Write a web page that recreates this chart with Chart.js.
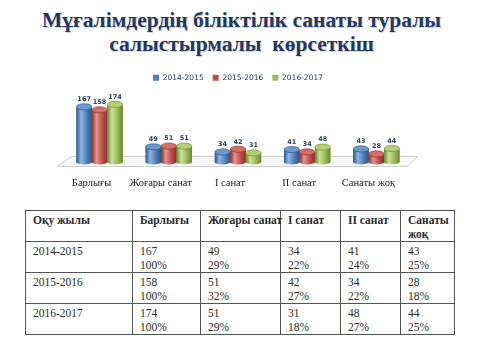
<!DOCTYPE html>
<html lang="kk">
<head>
<meta charset="UTF-8">
<title>Мұғалімдердің біліктілік санаты</title>
<script src="https://cdn.jsdelivr.net/npm/chart.js"></script>
<style>
    body { margin: 0; background: #fff; width: 483px; height: 363px; overflow: hidden; position: relative; }
    .titulo {
        position: absolute; left: 0; top: 8px; width: 483px; text-align: center;
        font-family: "Liberation Serif", serif; font-weight: bold; font-size: 21.5px; line-height: 24px;
        color: #1f3864; text-shadow: 1px 1px 1px rgba(0, 0, 0, 0.18);
    }
    .grafico { position: absolute; left: 0; top: 62px; width: 483px; height: 134px; }
    table.dados {
        position: absolute; left: 25px; top: 210px; width: 429px; table-layout: fixed;
        border-collapse: collapse; font-family: "Liberation Serif", serif; font-size: 11.5px; color: #2b2b2b;
    }
    table.dados td, table.dados th {
        box-sizing: border-box; border: 1px solid #555; vertical-align: top; text-align: left;
        padding: 2px 0 0 7px; line-height: 14px; font-weight: normal;
    }
    table.dados th { font-weight: bold; height: 31px; white-space: nowrap; }
    table.dados th:last-child { white-space: normal; }
    table.dados td { height: 28.5px; }
</style>
</head>
<body>

<div class="titulo">Мұғалімдердің біліктілік санаты туралы<br>салыстырмалы&nbsp; көрсеткіш</div>
<div class="grafico"><canvas id="graficoSanat"></canvas></div>
<table class="dados" id="tabelaSanat"></table>

<script>
    const categorias = ['Барлығы', 'Жоғары санат', 'I санат', 'II санат', 'Санаты жоқ'];
    const anos = ['2014-2015', '2015-2016', '2016-2017'];
    const valores2014 = [167, 49, 34, 41, 43];
    const valores2015 = [158, 51, 42, 34, 28];
    const valores2016 = [174, 51, 31, 48, 44];
    const percent2014 = ['100%', '29%', '22%', '24%', '25%'];
    const percent2015 = ['100%', '32%', '27%', '22%', '18%'];
    const percent2016 = ['100%', '29%', '18%', '27%', '25%'];
    const cabecalho = ['Оқу жылы', 'Барлығы', 'Жоғары санат', 'I санат', 'II санат', 'Санаты жоқ'];
    const largurasColunas = [107, 68, 80, 60, 60, 54];

    // cores: base, escuro, claro, topo
    const cores = [
        ['#4f81bd', '#2a5587', '#93b5e0', '#6f99cf'],
        ['#c0504d', '#86302d', '#e39390', '#d16f6c'],
        ['#9bbb59', '#67862f', '#cde09c', '#b2cf74']
    ];

    // tabela
    const tabela = document.getElementById('tabelaSanat');
    let html = '<tr>' + cabecalho.map((c, i) => `<th style="width:${largurasColunas[i]}px">${c}</th>`).join('') + '</tr>';
    [valores2014, valores2015, valores2016].forEach((vals, r) => {
        const pcts = [percent2014, percent2015, percent2016][r];
        html += '<tr><td>' + anos[r] + '</td>' + vals.map((v, i) => `<td>${v}<br>${pcts[i]}</td>`).join('') + '</tr>';
    });
    tabela.innerHTML = html;

    // piso 3D e cilindros
    const cilindros = {
        id: 'cilindros',
        beforeDatasetsDraw(chart) {
            const { ctx, chartArea } = chart;
            const b = chartArea.bottom;
            ctx.save();
            ctx.beginPath();
            ctx.moveTo(chartArea.left + 7, b - 7);
            ctx.lineTo(chartArea.right + 7, b - 7);
            ctx.lineTo(chartArea.right - 4, b + 3);
            ctx.lineTo(chartArea.left - 8, b + 3);
            ctx.closePath();
            ctx.fillStyle = '#f9f9f9';
            ctx.fill();
            ctx.strokeStyle = '#cccccc';
            ctx.lineWidth = 1;
            ctx.stroke();
            ctx.restore();
        },
        afterDatasetsDraw(chart) {
            const { ctx } = chart;
            chart.data.datasets.forEach((ds, d) => {
                const meta = chart.getDatasetMeta(d);
                const c = cores[d];
                meta.data.forEach((el, i) => {
                    const w = el.width, x = el.x, top = el.y, bot = el.base - 2;
                    const ry = w * 0.2;
                    const g = ctx.createLinearGradient(x - w / 2, 0, x + w / 2, 0);
                    g.addColorStop(0, c[1]);
                    g.addColorStop(0.3, c[2]);
                    g.addColorStop(0.65, c[0]);
                    g.addColorStop(1, c[1]);
                    ctx.save();
                    ctx.beginPath();
                    ctx.moveTo(x - w / 2, top);
                    ctx.lineTo(x - w / 2, bot);
                    ctx.ellipse(x, bot, w / 2, ry, 0, Math.PI, 0, true);
                    ctx.lineTo(x + w / 2, top);
                    ctx.ellipse(x, top, w / 2, ry, 0, 0, Math.PI, false);
                    ctx.closePath();
                    ctx.fillStyle = g;
                    ctx.fill();
                    ctx.beginPath();
                    ctx.ellipse(x, top, w / 2, ry, 0, 0, Math.PI * 2);
                    ctx.fillStyle = c[3];
                    ctx.fill();
                    ctx.strokeStyle = c[1];
                    ctx.lineWidth = 0.6;
                    ctx.stroke();
                    // rótulo
                    ctx.fillStyle = '#243f60';
                    ctx.font = 'bold 6.5px "DejaVu Sans"';
                    ctx.textAlign = 'center';
                    ctx.textBaseline = 'bottom';
                    ctx.fillText(ds.data[i], x, top - ry - 1);
                    ctx.restore();
                });
            });
        }
    };

    new Chart(document.getElementById('graficoSanat'), {
        type: 'bar',
        data: {
            labels: categorias,
            datasets: [
                { label: anos[0], data: valores2014, backgroundColor: cores[0][0] },
                { label: anos[1], data: valores2015, backgroundColor: cores[1][0] },
                { label: anos[2], data: valores2016, backgroundColor: cores[2][0] }
            ]
        },
        options: {
            responsive: true,
            maintainAspectRatio: false,
            animation: false,
            categoryPercentage: 0.67,
            barPercentage: 1.0,
            layout: { padding: { left: 65, right: 72, top: 3, bottom: 0 } },
            plugins: {
                legend: {
                    position: 'top',
                    labels: {
                        boxWidth: 6, boxHeight: 6, padding: 9,
                        color: '#1f3864',
                        font: { family: '"DejaVu Sans"', size: 7.5 }
                    }
                },
                tooltip: { enabled: false }
            },
            scales: {
                x: {
                    grid: { display: false },
                    border: { display: false },
                    ticks: {
                        color: '#222', labelOffset: -8, padding: 6,
                        font: { family: '"Liberation Serif"', size: 10.5 }
                    }
                },
                y: { display: false, min: 0, max: 212 }
            }
        },
        plugins: [cilindros]
    });
</script>
</body>
</html>
